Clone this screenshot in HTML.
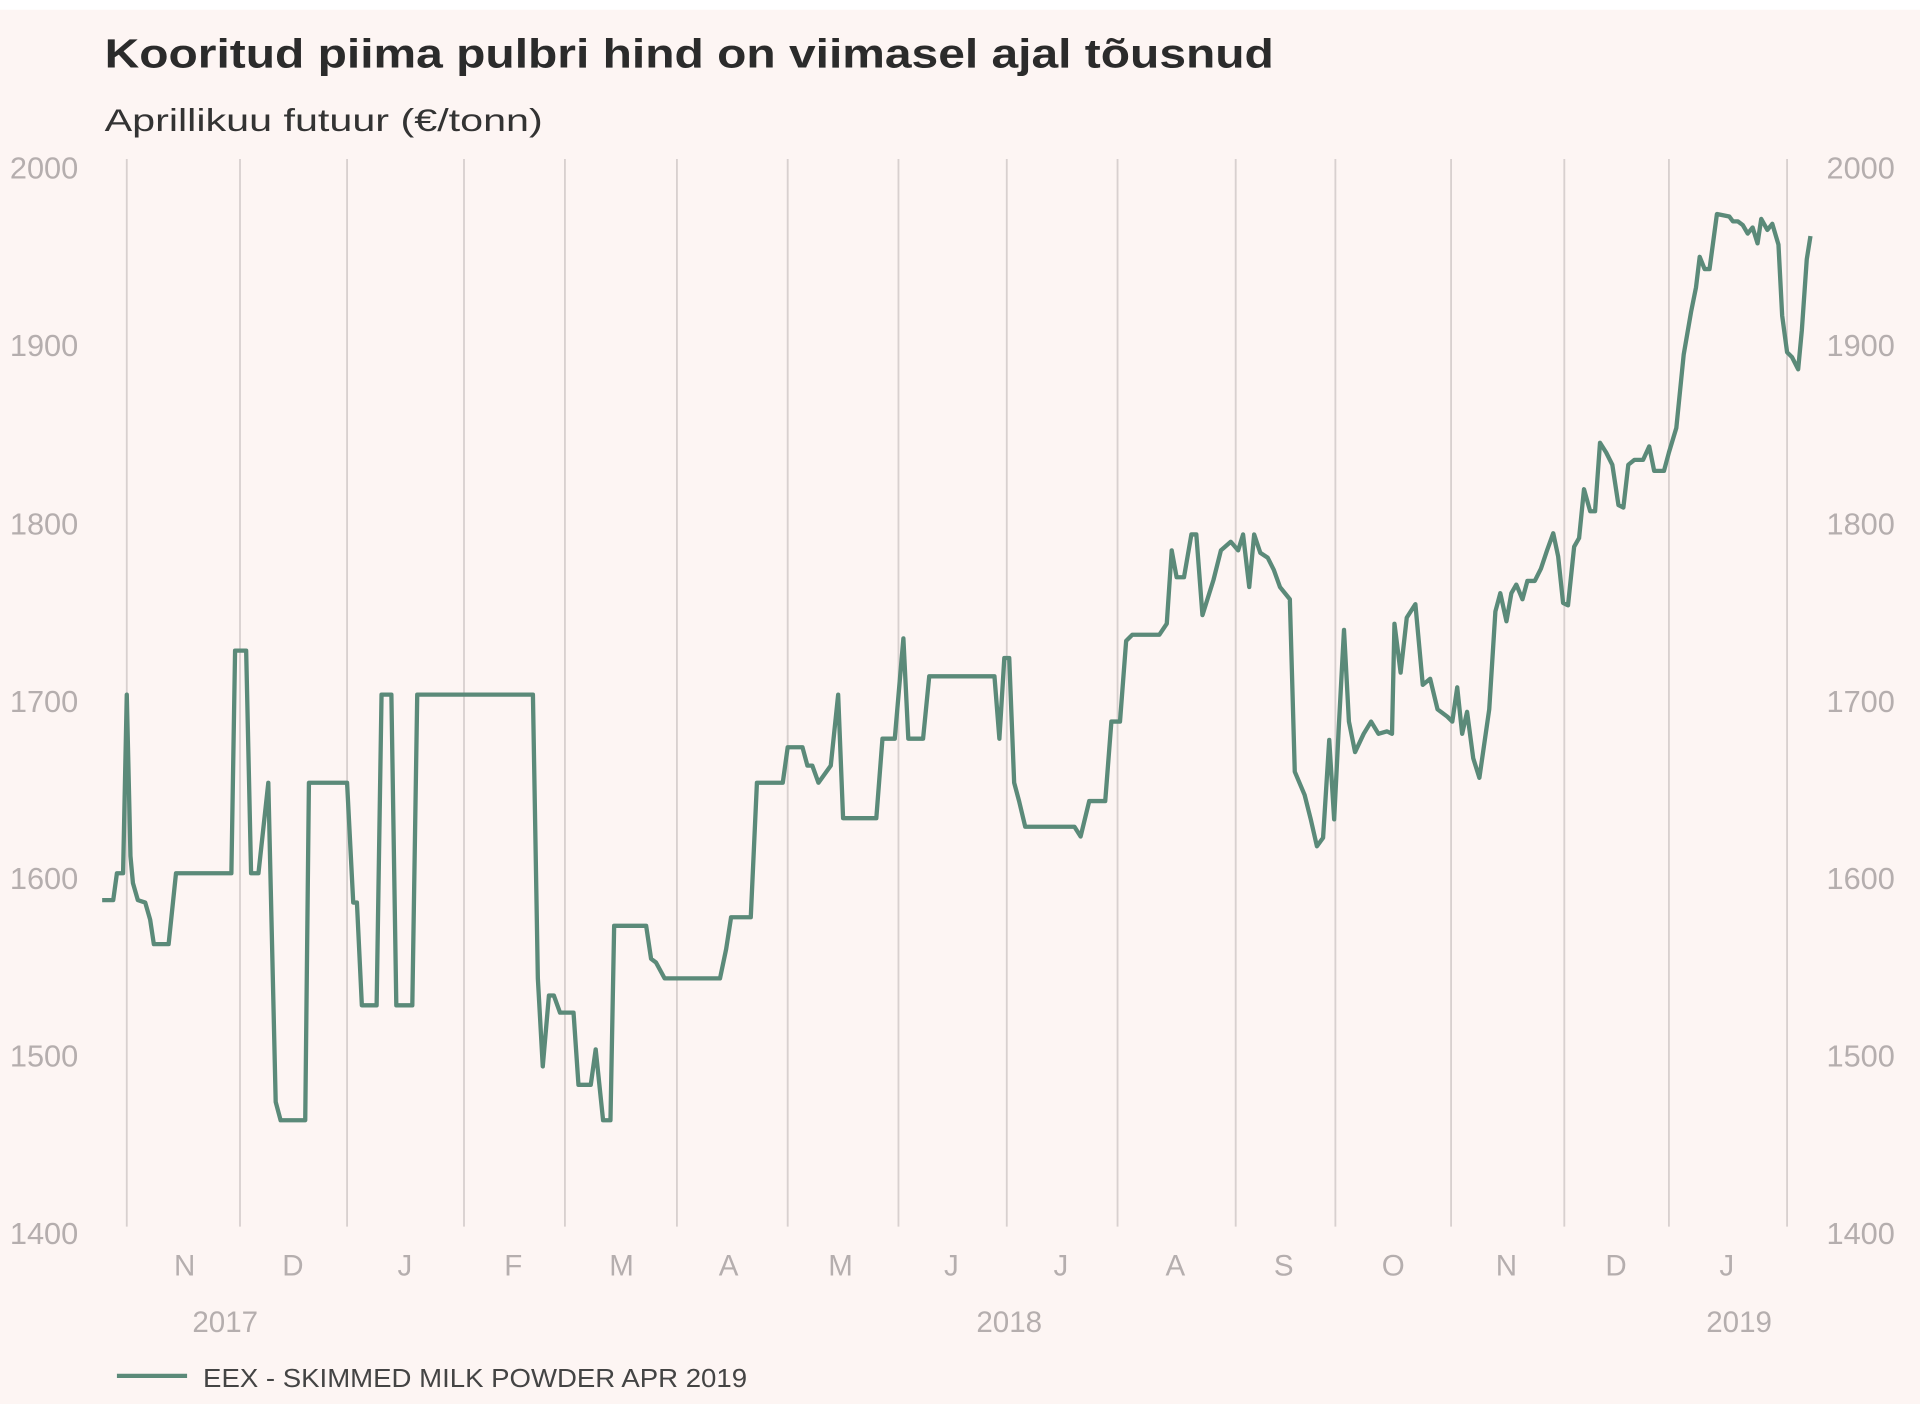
<!DOCTYPE html>
<html><head><meta charset="utf-8"><style>
html,body{margin:0;padding:0;background:#fdf5f3;}
svg{display:block}
</style></head><body>
<svg width="1920" height="1404" viewBox="0 0 1560 1148" preserveAspectRatio="none" xmlns="http://www.w3.org/2000/svg">
<rect x="0" y="0" width="1560" height="1148" fill="#fdf5f3"/>
<rect x="0" y="0" width="1560" height="8" fill="#ffffff"/>
<g font-family="Liberation Sans, sans-serif">
<text x="85" y="55" font-size="33" font-weight="bold" fill="#2b2b2b" textLength="950" lengthAdjust="spacingAndGlyphs">Kooritud piima pulbri hind on viimasel ajal tõusnud</text>
<text x="85" y="107" font-size="26" fill="#333" textLength="356" lengthAdjust="spacingAndGlyphs">Aprillikuu futuur (€/tonn)</text>
<g font-size="25" fill="#b5aeae">
<text x="8" y="146">2000</text><text x="8" y="291">1900</text><text x="8" y="437">1800</text><text x="8" y="582">1700</text><text x="8" y="727">1600</text><text x="8" y="872">1500</text><text x="8" y="1017">1400</text>
<text x="1484" y="146">2000</text><text x="1484" y="291">1900</text><text x="1484" y="437">1800</text><text x="1484" y="582">1700</text><text x="1484" y="727">1600</text><text x="1484" y="872">1500</text><text x="1484" y="1017">1400</text>
</g>
<g stroke="#d8d0cf" stroke-width="1.5">
<line x1="103" y1="130" x2="103" y2="1003"/><line x1="195" y1="130" x2="195" y2="1003"/><line x1="282" y1="130" x2="282" y2="1003"/><line x1="377" y1="130" x2="377" y2="1003"/><line x1="459" y1="130" x2="459" y2="1003"/><line x1="550" y1="130" x2="550" y2="1003"/><line x1="640" y1="130" x2="640" y2="1003"/><line x1="730" y1="130" x2="730" y2="1003"/><line x1="818" y1="130" x2="818" y2="1003"/><line x1="908" y1="130" x2="908" y2="1003"/><line x1="1004" y1="130" x2="1004" y2="1003"/><line x1="1085" y1="130" x2="1085" y2="1003"/><line x1="1179" y1="130" x2="1179" y2="1003"/><line x1="1271" y1="130" x2="1271" y2="1003"/><line x1="1356" y1="130" x2="1356" y2="1003"/><line x1="1452" y1="130" x2="1452" y2="1003"/>
</g>
<g font-size="24" fill="#b5aeae" text-anchor="middle">
<text x="150" y="1043">N</text><text x="238" y="1043">D</text><text x="329" y="1043">J</text><text x="417" y="1043">F</text><text x="505" y="1043">M</text><text x="592" y="1043">A</text><text x="683" y="1043">M</text><text x="773" y="1043">J</text><text x="862" y="1043">J</text><text x="955" y="1043">A</text><text x="1043" y="1043">S</text><text x="1132" y="1043">O</text><text x="1224" y="1043">N</text><text x="1313" y="1043">D</text><text x="1403" y="1043">J</text>
<text x="183" y="1089">2017</text><text x="820" y="1089">2018</text><text x="1413" y="1089">2019</text>
</g>
<polyline fill="none" stroke="#5b8a79" stroke-width="3.5" stroke-linejoin="round" points="83,736 92,736 95,714 100,714 103,568 106,700 108,722 112,736 118,738 122,752 125,772 137,772 143,714 188,714 191,532 200,532 204,714 210,714 218,640 224,901 228,916 248,916 251,640 282,640 287,738 290,738 294,822 306,822 310,568 318,568 322,822 335,822 339,568 433,568 437,800 441,872 446,814 450,814 455,828 466,828 470,887 480,887 484,858 490,916 496,916 499,757 525,757 529,784 533,787 540,800 585,800 590,776 594,750 610,750 615,640 636,640 640,611 652,611 656,626 660,626 665,640 675,626 681,568 685,669 712,669 717,604 727,604 734,522 738,604 750,604 755,553 808,553 812,604 816,538 820,538 824,640 828,655 833,676 873,676 878,684 885,655 898,655 903,590 910,590 915,524 920,519 942,519 948,510 952,450 956,472 962,472 968,437 972,437 977,503 986,474 992,450 1000,443 1006,450 1010,437 1015,480 1019,437 1024,452 1030,456 1035,466 1040,480 1048,490 1052,631 1060,650 1065,670 1070,692 1075,685 1080,605 1084,670 1088,590 1092,515 1096,590 1101,615 1108,600 1114,590 1120,600 1127,598 1131,600 1133,510 1138,550 1143,505 1150,494 1156,560 1162,555 1168,580 1176,586 1180,590 1184,562 1188,600 1192,582 1197,620 1202,636 1210,580 1215,500 1219,485 1224,508 1228,485 1232,478 1237,490 1241,475 1247,475 1252,465 1257,450 1262,436 1266,455 1270,493 1274,495 1279,447 1283,440 1287,400 1292,418 1296,418 1300,362 1305,370 1310,380 1315,413 1319,415 1323,380 1328,376 1335,376 1340,365 1344,385 1352,385 1356,370 1362,350 1368,290 1374,255 1378,235 1381,210 1385,220 1389,220 1395,175 1405,177 1408,181 1412,181 1416,184 1420,191 1424,186 1428,199 1431,179 1436,188 1440,183 1445,200 1448,258 1452,288 1456,292 1461,302 1464,270 1468,212 1471,193"/>
<line x1="95" y1="1125" x2="152" y2="1125" stroke="#5b8a79" stroke-width="3.5"/>
<text x="165" y="1134" font-size="21" fill="#444" textLength="442" lengthAdjust="spacingAndGlyphs">EEX - SKIMMED MILK POWDER APR 2019</text>
</g>
</svg>
</body></html>
